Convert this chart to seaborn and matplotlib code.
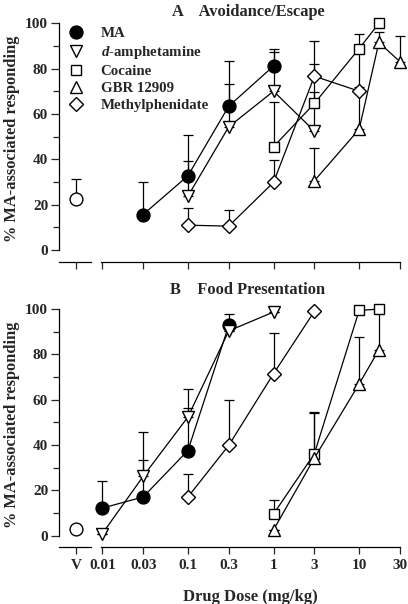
import numpy as np
import pandas as pd
import matplotlib
matplotlib.use("Agg")
import matplotlib.pyplot as plt
from matplotlib.lines import Line2D
from matplotlib.ticker import MultipleLocator, FixedLocator, NullLocator
import seaborn as sns

# stile: serif grassetto come nella figura originale
sns.set_theme(style="ticks")
plt.rcParams['font.family'] = ['Liberation Serif', 'DejaVu Serif']
plt.rcParams['font.weight'] = 'bold'
plt.rcParams['mathtext.fontset'] = 'custom'
plt.rcParams['mathtext.it'] = 'Liberation Serif:italic:bold'
plt.rcParams['mathtext.rm'] = 'Liberation Serif:bold'

# ---- dati (valore medio e limite superiore della barra) ----
drugs = ["MA", "d-amphetamine", "Cocaine", "GBR 12909", "Methylphenidate"]
legend_labels = ["MA", r"$\mathit{d}$-amphetamine", "Cocaine", "GBR 12909", "Methylphenidate"]

dose_ticks = [0.01, 0.03, 0.1, 0.3, 1, 3, 10, 30]
dose_tick_labels = ["0.01", "0.03", "0.1", "0.3", "1", "3", "10", "30"]

# Pannello A: Avoidance/Escape
a_ma_dose = [0.03, 0.1, 0.3, 1]
a_ma_val = [15.7, 32.8, 63.5, 81.2]
a_ma_up = [29.9, 51.0, 83.4, 88.5]
a_damph_dose = [0.1, 0.3, 1, 3]
a_damph_val = [23.8, 54.4, 70.1, 52.5]
a_damph_up = [39.4, 73.1, 87.2, 69.8]
a_coc_dose = [1, 3, 10, 17]
a_coc_val = [45.6, 64.7, 88.9, 100.0]
a_coc_up = [65.4, 82.0, 95.3, 100.0]
a_gbr_dose = [3, 10, 17, 30]
a_gbr_val = [30.6, 53.3, 91.6, 83.1]
a_gbr_up = [44.9, 72.0, 96.3, 94.5]
a_mph_dose = [0.1, 0.3, 1, 3, 10]
a_mph_val = [11.0, 10.6, 29.9, 76.7, 70.1]
a_mph_up = [18.4, 17.6, 39.7, 92.3, 89.0]
a_veh_val = 22.4
a_veh_up = 31.2

# Pannello B: Food Presentation
b_ma_dose = [0.01, 0.03, 0.1, 0.3]
b_ma_val = [12.2, 17.1, 37.6, 92.8]
b_ma_up = [24.0, 33.5, 56.3, 97.9]
b_damph_dose = [0.01, 0.03, 0.1, 0.3, 1]
b_damph_val = [0.9, 26.2, 52.4, 90.4, 98.7]
b_damph_up = [0.9, 45.6, 64.7, 90.4, 98.7]
b_coc_dose = [1, 3, 10, 17]
b_coc_val = [9.6, 36.2, 99.4, 100.0]
b_coc_up = [15.9, 54.4, 99.4, 100.0]
b_gbr_dose = [1, 3, 10, 17]
b_gbr_val = [2.6, 34.3, 67.0, 82.0]
b_gbr_up = [2.6, 54.0, 87.6, 100.0]
b_mph_dose = [0.1, 0.3, 1, 3]
b_mph_val = [17.1, 39.9, 71.5, 99.0]
b_mph_up = [27.4, 60.0, 89.4, 99.0]
b_veh_val = 3.1
b_veh_up = 3.1

panel_a = {
    "MA": (a_ma_dose, a_ma_val, a_ma_up),
    "d-amphetamine": (a_damph_dose, a_damph_val, a_damph_up),
    "Cocaine": (a_coc_dose, a_coc_val, a_coc_up),
    "GBR 12909": (a_gbr_dose, a_gbr_val, a_gbr_up),
    "Methylphenidate": (a_mph_dose, a_mph_val, a_mph_up),
}
panel_b = {
    "MA": (b_ma_dose, b_ma_val, b_ma_up),
    "d-amphetamine": (b_damph_dose, b_damph_val, b_damph_up),
    "Cocaine": (b_coc_dose, b_coc_val, b_coc_up),
    "GBR 12909": (b_gbr_dose, b_gbr_val, b_gbr_up),
    "Methylphenidate": (b_mph_dose, b_mph_val, b_mph_up),
}

markers = {
    "MA": dict(marker="o", markersize=9.3, markerfacecolor="black"),
    "d-amphetamine": dict(marker="v", markersize=9, markerfacecolor="white"),
    "Cocaine": dict(marker="s", markersize=7.5, markerfacecolor="white"),
    "GBR 12909": dict(marker="^", markersize=9, markerfacecolor="white"),
    "Methylphenidate": dict(marker="D", markersize=7.2, markerfacecolor="white"),
}

W, H = 408, 604
LW = 0.9
TICK_FS = 11
LABEL_FS = 11.8


def px_box(x0, x1, ytop, ybot):
    return [x0 / W, 1 - ybot / H, (x1 - x0) / W, (ybot - ytop) / H]


def draw_panel(ax_v, ax_d, data, veh_val, veh_up, show_labels):
    ylim = (-5.1, 103)
    # --- asse del veicolo ---
    ax_v.set_xlim(-1, 0.89)
    ax_v.set_ylim(*ylim)
    ax_v.errorbar([0], [veh_val], yerr=[[0], [veh_up - veh_val]], fmt="none",
                  ecolor="black", elinewidth=LW, capsize=3.5, capthick=LW, zorder=2)
    sns.scatterplot(x=[0], y=[veh_val], ax=ax_v, marker="o", s=85, color="white",
                    edgecolor="black", linewidth=1.0, zorder=4, clip_on=False, legend=False)
    ax_v.spines[["top", "right"]].set_visible(False)
    ax_v.spines["left"].set_bounds(0, 100)
    ax_v.yaxis.set_major_locator(FixedLocator([0, 20, 40, 60, 80, 100]))
    ax_v.yaxis.set_minor_locator(MultipleLocator(10))
    ax_v.xaxis.set_major_locator(FixedLocator([0]))
    ax_v.set_xticklabels(["V"] if show_labels else [""])
    ax_v.tick_params(axis="y", which="major", length=6, width=LW, pad=2, labelsize=TICK_FS)
    ax_v.tick_params(axis="y", which="minor", length=4, width=LW)
    ax_v.tick_params(axis="x", length=5, width=LW, labelsize=TICK_FS)
    ax_v.set_ylabel("% MA-associated responding", fontsize=LABEL_FS, fontweight="bold",
                    labelpad=4)
    ax_v.set_xlabel("")

    # --- asse delle dosi (log) ---
    ax_d.set_xscale("log")
    ax_d.set_xlim(0.00958, 30)
    ax_d.set_ylim(*ylim)
    for name in drugs:
        dose, val, up = data[name]
        err = np.array(up) - np.array(val)
        ax_d.errorbar(dose, val, yerr=[np.zeros(len(err)), err], fmt="none",
                      ecolor="black", elinewidth=LW, capsize=3.5, capthick=LW,
                      zorder=2, clip_on=False)
        df = pd.DataFrame({"dose": dose, "resp": val})
        sns.lineplot(data=df, x="dose", y="resp", ax=ax_d, color="black", lw=LW,
                     markeredgecolor="black", markeredgewidth=1.0, zorder=3,
                     clip_on=False, legend=False, **markers[name])
    for s in ["top", "right", "left"]:
        ax_d.spines[s].set_visible(False)
    ax_d.yaxis.set_major_locator(NullLocator())
    ax_d.yaxis.set_minor_locator(NullLocator())
    ax_d.xaxis.set_major_locator(FixedLocator(dose_ticks))
    ax_d.xaxis.set_minor_locator(NullLocator())
    ax_d.set_xticklabels(dose_tick_labels if show_labels else [""] * len(dose_ticks))
    ax_d.tick_params(axis="x", length=5, width=LW, labelsize=TICK_FS)
    ax_d.set_ylabel("")
    ax_d.set_xlabel("")
    for ax in (ax_v, ax_d):
        for s in ax.spines.values():
            s.set_linewidth(LW)
            s.set_color("black")


fig = plt.figure(figsize=(W / 100, H / 100), dpi=100)
ax_va = fig.add_axes(px_box(59.3, 90.7, 16.6, 261.7))
ax_da = fig.add_axes(px_box(100.7, 400, 16.6, 261.7))
ax_vb = fig.add_axes(px_box(59.3, 90.7, 302.3, 547.3))
ax_db = fig.add_axes(px_box(100.7, 400, 302.3, 547.3))

draw_panel(ax_va, ax_da, panel_a, a_veh_val, a_veh_up, show_labels=False)
draw_panel(ax_vb, ax_db, panel_b, b_veh_val, b_veh_up, show_labels=True)

ax_db.set_xlabel("Drug Dose (mg/kg)", fontsize=12, fontweight="bold", labelpad=12)

fig.text(248 / W, 1 - 12 / H, "A    Avoidance/Escape", ha="center", va="center",
         fontsize=11.8, fontweight="bold")
fig.text(248 / W, 1 - 290 / H, "B    Food Presentation", ha="center", va="center",
         fontsize=11.8, fontweight="bold")

handles = [Line2D([], [], linestyle="none", color="black", markeredgecolor="black",
                  markeredgewidth=1.0, **markers[n]) for n in drugs]
fig.legend(handles, legend_labels, loc="upper left",
           bbox_to_anchor=(68.0 / W, 1 - 27 / H), frameon=False, fontsize=10.7,
           borderpad=0, borderaxespad=0, handlelength=1.1, handletextpad=1.1,
           labelspacing=0.25, numpoints=1)

fig.savefig("out.png", dpi=100)
